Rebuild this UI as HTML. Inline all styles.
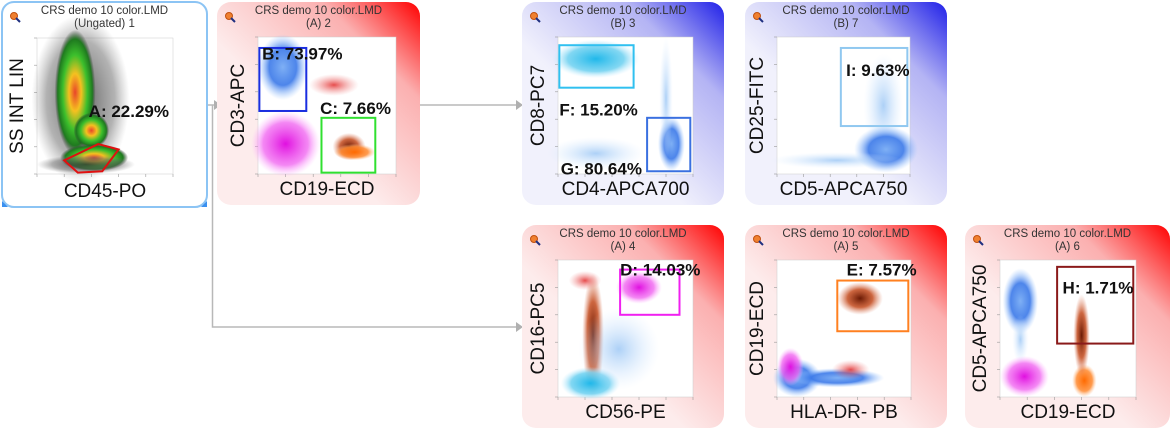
<!DOCTYPE html>
<html><head><meta charset="utf-8"><style>
html,body{margin:0;padding:0;background:#fff;width:1174px;height:434px;overflow:hidden}
svg text{font-family:"Liberation Sans",Arial,sans-serif}
</style></head><body>
<svg id="s" width="1174" height="434" viewBox="0 0 1174 434" xmlns="http://www.w3.org/2000/svg">
<defs>
<linearGradient id="gRed" x1="1" y1="0" x2="0.4" y2="0.6"><stop offset="0" stop-color="#ff0000"/><stop offset="0.4" stop-color="#fbb0b0"/><stop offset="1" stop-color="#fdecec"/></linearGradient>
<linearGradient id="gBlue" x1="1" y1="0" x2="0.4" y2="0.6"><stop offset="0" stop-color="#2020e8"/><stop offset="0.4" stop-color="#b4b4f4"/><stop offset="1" stop-color="#f1f1fc"/></linearGradient>
<radialGradient id="cGreen"><stop offset="0" stop-color="#e8452a"/><stop offset="0.3" stop-color="#f5c020"/><stop offset="0.6" stop-color="#3cbf2c"/><stop offset="0.85" stop-color="#1f7a1f"/><stop offset="1" stop-color="#333" stop-opacity="0"/></radialGradient>
<radialGradient id="cBlack"><stop offset="0" stop-color="#333" stop-opacity="0.8"/><stop offset="0.7" stop-color="#666" stop-opacity="0.5"/><stop offset="1" stop-color="#888" stop-opacity="0"/></radialGradient>
<radialGradient id="cBlue"><stop offset="0" stop-color="#7fb0f5"/><stop offset="0.55" stop-color="#3a78e8" stop-opacity="0.9"/><stop offset="1" stop-color="#8fc0ff" stop-opacity="0"/></radialGradient>
<radialGradient id="cCyan"><stop offset="0" stop-color="#20b8ea"/><stop offset="0.65" stop-color="#6cd0f0" stop-opacity="0.85"/><stop offset="1" stop-color="#c0ecff" stop-opacity="0"/></radialGradient>
<radialGradient id="cMag"><stop offset="0" stop-color="#e010e0"/><stop offset="0.65" stop-color="#f060f0" stop-opacity="0.75"/><stop offset="1" stop-color="#ffb0ff" stop-opacity="0"/></radialGradient>
<radialGradient id="cBrown"><stop offset="0" stop-color="#6a1a05"/><stop offset="0.55" stop-color="#c04010" stop-opacity="0.8"/><stop offset="1" stop-color="#e08060" stop-opacity="0"/></radialGradient>
<radialGradient id="cOrange"><stop offset="0" stop-color="#ff6a00"/><stop offset="0.65" stop-color="#ff8a30" stop-opacity="0.85"/><stop offset="1" stop-color="#ffc090" stop-opacity="0"/></radialGradient>
<radialGradient id="cLight"><stop offset="0" stop-color="#9ec8f5" stop-opacity="0.85"/><stop offset="1" stop-color="#d8eaff" stop-opacity="0"/></radialGradient>
<radialGradient id="cRed"><stop offset="0" stop-color="#e02020" stop-opacity="0.8"/><stop offset="1" stop-color="#f08080" stop-opacity="0"/></radialGradient>
</defs>
<g id="connectors" stroke="#b8b8b8" stroke-width="1.5" fill="none">
<path d="M207 105 H214"/><path d="M212.5 105 V327 H518"/><path d="M420 105 H516"/>
</g>
<g fill="#b0b0b0">
<polygon points="214,100 221,105 214,110"/><polygon points="516,100 523,105 516,110"/><polygon points="516,322 523,327 516,332"/>
</g>
</svg>
<script>
const titles=["(Ungated) 1","(A) 2","(B) 3","(B) 7","(A) 4","(A) 5","(A) 6"];
const xLabels=["CD45-PO","CD19-ECD","CD4-APCA700","CD5-APCA750","CD56-PE","HLA-DR- PB","CD19-ECD"];
const yLabels=["SS INT LIN","CD3-APC","CD8-PC7","CD25-FITC","CD16-PC5","CD19-ECD","CD5-APCA750"];
const gateNames=["A","B","C","F","G","I","D","E","H"];
const gatePcts=[22.29,73.97,7.66,15.20,80.64,9.63,14.03,7.57,1.71];
const S=document.getElementById('s');const NS='http://www.w3.org/2000/svg';
function el(t,a,p){const e=document.createElementNS(NS,t);for(const k in a)e.setAttribute(k,a[k]);(p||S).appendChild(e);return e;}
const P=[[2,2,205,205,'w',37,38,136,136],[217,2,203,203,'gRed',258,37,138,137],[522,2,202,203,'gBlue',558,37,135,137],[745,2,202,203,'gBlue',777,37,133,137],
[522,225,202,203,'gRed',558,260,135,137],[745,225,202,203,'gRed',777,260,134,137],[965,225,205,203,'gRed',1000,260,136,137]];
// clusters: [panel, cx, cy, rx, ry (fractions of plot), gradient]
const clusters=[
[0,.32,.45,.36,.62,'cBlack'],[0,.28,.4,.15,.46,'cGreen'],[0,.4,.68,.13,.13,'cGreen'],[0,.42,.88,.25,.1,'cGreen'],[0,.36,.93,.36,.07,'cBlack'],
[1,.18,.22,.18,.24,'cBlue'],[1,.2,.78,.25,.24,'cMag'],[1,.66,.8,.12,.1,'cBrown'],[1,.7,.84,.15,.06,'cOrange'],[1,.55,.35,.18,.08,'cRed'],
[2,.28,.16,.32,.14,'cCyan'],[2,.84,.78,.1,.2,'cBlue'],[2,.28,.85,.36,.12,'cLight'],[2,.8,.45,.05,.45,'cLight'],
[3,.8,.5,.15,.38,'cLight'],[3,.82,.82,.24,.17,'cBlue'],[3,.45,.9,.5,.06,'cLight'],
[4,.6,.2,.17,.12,'cMag'],[4,.26,.55,.08,.45,'cBrown'],[4,.24,.9,.22,.12,'cCyan'],[4,.2,.15,.12,.07,'cRed'],[4,.45,.65,.3,.3,'cLight'],
[5,.62,.28,.17,.12,'cBrown'],[5,.15,.86,.18,.14,'cBlue'],[5,.45,.86,.35,.07,'cBlue'],[5,.1,.78,.1,.14,'cMag'],[5,.55,.8,.14,.07,'cRed'],
[6,.15,.3,.13,.24,'cBlue'],[6,.15,.58,.06,.18,'cLight'],[6,.18,.85,.18,.15,'cMag'],[6,.62,.88,.09,.12,'cOrange'],[6,.6,.55,.06,.3,'cBrown']];
// gates: [panel, x0,y0,x1,y1, color, gateIndex, labelX, labelY]
const gates=[[1,.01,.08,.35,.54,'#1a2ee0',1,.03,.12],[1,.46,.59,.85,.99,'#30e030',2,.45,.52],
[2,.01,.06,.56,.37,'#30c0f0',3,.01,.53],[2,.66,.59,.98,.98,'#3a70e0',4,.02,.96],
[3,.48,.08,.98,.65,'#90c8f0',5,.52,.24],
[4,.46,.07,.9,.4,'#f020f0',6,.46,.07],[5,.45,.15,.98,.52,'#ff8020',7,.52,.07],[6,.42,.05,.98,.61,'#8a1a1a',8,.46,.2]];
P.forEach((p,i)=>{
 const g=el('g',{});
 if(p[4]==='w'){el('rect',{x:p[0],y:p[1],width:p[2],height:p[3],rx:12,fill:'#fff',stroke:'#8cc4f4','stroke-width':2},g);
  el('path',{d:`M${p[0]} ${p[1]+p[3]-6} v6 h6 z M${p[0]+p[2]} ${p[1]+p[3]-6} v6 h-6 z`,fill:'#3a90f0'},g);}
 else el('rect',{x:p[0],y:p[1],width:p[2],height:p[3],rx:14,fill:`url(#${p[4]})`},g);
 const cx=p[0]+p[2]/2;
 const t1=el('text',{x:cx,y:p[1]+12,'font-size':11.5,'text-anchor':'middle',fill:'#333'},g);t1.textContent='CRS demo 10 color.LMD';
 
 const t2=el('text',{x:cx,y:p[1]+25,'font-size':11.5,'text-anchor':'middle',fill:'#333'},g);t2.textContent=titles[i];
 
 const ic=el('circle',{cx:p[0]+12,cy:p[1]+14,r:3.5,fill:'#f08030',stroke:'#c05010'},g);
 
 el('line',{x1:p[0]+14,y1:p[1]+16,x2:p[0]+18,y2:p[1]+20,stroke:'#203080','stroke-width':2},g);
 const pl=el('rect',{x:p[5],y:p[6],width:p[7],height:p[8],fill:'#fff',stroke:'#ccc','stroke-width':.5},g);
 
 for(let k=0;k<6;k++){el('line',{x1:p[5]-3,x2:p[5],y1:p[6]+k*p[8]/5,y2:p[6]+k*p[8]/5,stroke:'#999','stroke-width':.6},g);
  el('line',{y1:p[6]+p[8],y2:p[6]+p[8]+3,x1:p[5]+k*p[7]/5,x2:p[5]+k*p[7]/5,stroke:'#999','stroke-width':.6},g);}
 const xl=el('text',{x:p[5]+p[7]/2,y:p[1]+p[3]-10,'font-size':19,'text-anchor':'middle',fill:'#111'},g);xl.textContent=xLabels[i];
 
 const ly=p[6]+p[8]/2,lx=p[5]-14;
 const yl=el('text',{x:lx,y:ly,'font-size':19,'text-anchor':'middle',fill:'#111',transform:`rotate(-90 ${lx} ${ly})`},g);yl.textContent=yLabels[i];
 
});
clusters.forEach(c=>{const p=P[c[0]];
 const e=el('ellipse',{cx:p[5]+c[1]*p[7],cy:p[6]+c[2]*p[8],rx:c[3]*p[7],ry:c[4]*p[8],fill:`url(#${c[5]})`});
 });
{const p=P[0];const pts=[[.2,.9],[.45,.78],[.6,.82],[.48,.98],[.3,.99]].map(q=>(p[5]+q[0]*p[7])+','+(p[6]+q[1]*p[8])).join(' ');
 const pg=el('polygon',{points:pts,fill:'none',stroke:'#e01010','stroke-width':2});
 const t=el('text',{x:p[5]+.38*p[7],y:p[6]+.58*p[8],'font-size':17,'font-weight':'bold',fill:'#111'});t.textContent=gateNames[0]+': '+gatePcts[0].toFixed(2)+'%';
 }
gates.forEach(q=>{const p=P[q[0]];
 const r=el('rect',{x:p[5]+q[1]*p[7],y:p[6]+q[2]*p[8],width:(q[3]-q[1])*p[7],height:(q[4]-q[2])*p[8],fill:'none',stroke:q[5],'stroke-width':2});
 
 const t=el('text',{x:p[5]+q[7]*p[7],y:p[6]+q[8]*p[8]+6,'font-size':17,'font-weight':'bold',fill:'#111'});t.textContent=gateNames[q[6]]+': '+gatePcts[q[6]].toFixed(2)+'%';
 });
</script>
</body></html>
